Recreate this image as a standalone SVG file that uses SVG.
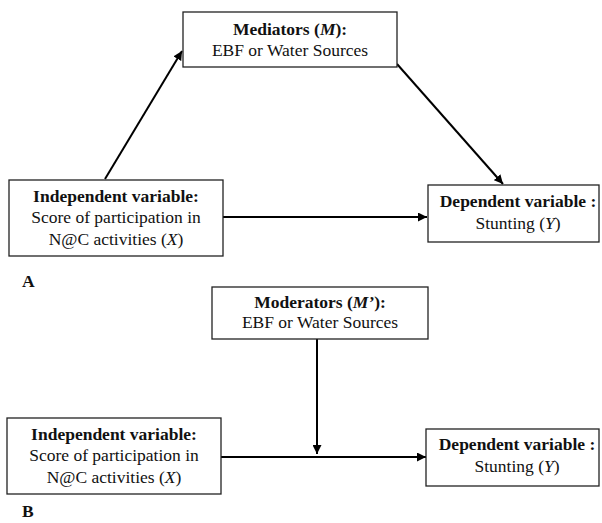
<svg xmlns="http://www.w3.org/2000/svg" width="602" height="523" viewBox="0 0 602 523">
<defs>
<marker id="ah" viewBox="0 0 10 10" refX="10" refY="5" markerWidth="9" markerHeight="9" markerUnits="userSpaceOnUse" orient="auto">
<path d="M0,0 L10,5 L0,10 z" fill="#000"/>
</marker>
</defs>
<style>
.box{fill:#fff;stroke:#222;stroke-width:1.3}
text{font-family:"Liberation Serif","Times New Roman",serif;font-size:17.5px;fill:#111;text-anchor:middle}
.b{font-weight:bold}
.lab{font-weight:bold;text-anchor:start}
.c{stroke:#000;stroke-width:2;fill:none}
</style>
<rect width="602" height="523" fill="#fff"/>
<g id="connectors">
<line class="c" x1="105" y1="179" x2="182" y2="51" marker-end="url(#ah)"/>
<line class="c" x1="397" y1="64" x2="503" y2="184" marker-end="url(#ah)"/>
<line class="c" x1="223" y1="217" x2="427" y2="217" marker-end="url(#ah)"/>
<line class="c" x1="317" y1="339" x2="317" y2="454" marker-end="url(#ah)"/>
<line class="c" x1="221" y1="457" x2="426" y2="457" marker-end="url(#ah)"/>
</g>
<g id="mediator">
<rect class="box" x="183" y="12" width="214" height="55"/>
<text x="290" y="35"><tspan class="b">Mediators (</tspan><tspan class="b" font-style="italic">M</tspan><tspan class="b">):</tspan></text>
<text x="290" y="56">EBF or Water Sources</text>
</g>
<g id="independentA">
<rect class="box" x="9" y="180" width="214" height="76"/>
<text x="116" y="202" class="b">Independent variable:</text>
<text x="116" y="223">Score of participation in</text>
<text x="116" y="245">N@C activities (<tspan font-style="italic">X</tspan>)</text>
</g>
<g id="dependentA">
<rect class="box" x="428" y="185" width="171" height="57"/>
<text x="518" y="207" class="b">Dependent variable :</text>
<text x="518" y="229">Stunting (<tspan font-style="italic">Y</tspan>)</text>
</g>
<text class="lab" x="22" y="287">A</text>
<g id="moderator">
<rect class="box" x="212" y="287" width="216" height="52"/>
<text x="320" y="308"><tspan class="b">Moderators (</tspan><tspan class="b" font-style="italic">M’</tspan><tspan class="b">):</tspan></text>
<text x="320" y="328">EBF or Water Sources</text>
</g>
<g id="independentB">
<rect class="box" x="7" y="418" width="214" height="76"/>
<text x="114" y="440" class="b">Independent variable:</text>
<text x="114" y="461">Score of participation in</text>
<text x="114" y="483">N@C activities (<tspan font-style="italic">X</tspan>)</text>
</g>
<g id="dependentB">
<rect class="box" x="426" y="429" width="173" height="57"/>
<text x="517" y="450" class="b">Dependent variable :</text>
<text x="517" y="472">Stunting (<tspan font-style="italic">Y</tspan>)</text>
</g>
<text class="lab" x="22" y="517">B</text>
</svg>
